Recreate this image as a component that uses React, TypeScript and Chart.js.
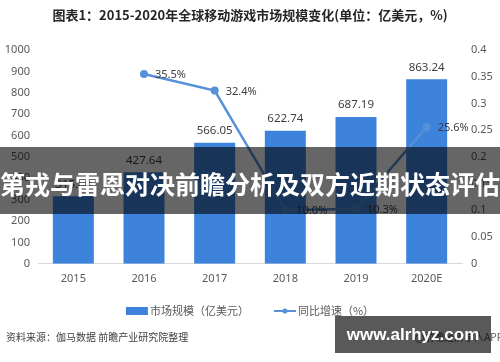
import React, { useEffect, useRef } from 'react';
import { Chart, registerables } from 'chart.js';

Chart.register(...registerables);

const titleText = '图表1：2015-2020年全球移动游戏市场规模变化(单位：亿美元，%)';
const bannerText = '第戎与雷恩对决前瞻分析及双方近期状态评估';
const sourceText = '资料来源：伽马数据 前瞻产业研究院整理';
const sourceRightText = '@前瞻经济学人APP';
const watermarkText = 'www.alrhyz.com';

const categories = ['2015', '2016', '2017', '2018', '2019', '2020E'];
const marketSize = [315.6, 427.64, 566.05, 622.74, 687.19, 863.24];
const growthRate = [null, 0.355, 0.324, 0.1, 0.103, 0.256];
const seriesNames = ['市场规模（亿美元）', '同比增速（%）'];
const leftAxisMax = 1000;
const leftAxisStep = 100;
const rightAxisMax = 0.4;
const rightAxisStep = 0.05;

const BAR_COLOR = '#3d83db';
const LINE_COLOR = '#5590d8';
const TEXT_COLOR = '#404040';
const TICK_COLOR = '#595959';
const FONT = "'Noto Sans', 'Noto Sans CJK SC', sans-serif";
const CJK_FONT = "'Noto Sans CJK SC', 'Noto Sans', sans-serif";

const valueLabelPlugin = {
  id: 'valueLabels',
  afterDatasetsDraw(chart: any) {
    const ctx = chart.ctx;
    ctx.save();
    ctx.fillStyle = TEXT_COLOR;
    ctx.textBaseline = 'middle';
    chart.data.datasets.forEach((ds: any, di: number) => {
      const meta = chart.getDatasetMeta(di);
      meta.data.forEach((el: any, i: number) => {
        const v = ds.data[i];
        if (v === null || v === undefined) return;
        if (ds.type === 'bar') {
          ctx.font = `11.5px ${FONT}`;
          ctx.textAlign = 'center';
          ctx.fillText(Number(v).toFixed(2), el.x, el.y - 12);
        } else {
          ctx.font = `11px ${FONT}`;
          ctx.textAlign = 'left';
          ctx.fillText((v * 100).toFixed(1) + '%', el.x + 11, el.y + 1);
        }
      });
    });
    ctx.restore();
  },
};

const legendPlugin = {
  id: 'customLegend',
  afterDraw(chart: any) {
    const ctx = chart.ctx;
    ctx.save();
    ctx.font = `11px ${CJK_FONT}`;
    ctx.textBaseline = 'middle';
    ctx.textAlign = 'left';
    const sw = 22;
    const gap = 2;
    const itemGap = 25;
    const w1 = ctx.measureText(chart.data.datasets[0].label).width;
    const w2 = ctx.measureText(chart.data.datasets[1].label).width;
    const total = sw + gap + w1 + itemGap + sw + gap + w2;
    let x = chart.width / 2 - total / 2;
    const y = 311;
    ctx.fillStyle = chart.data.datasets[0].backgroundColor;
    ctx.fillRect(x, y - 4, sw, 8);
    x += sw + gap;
    ctx.fillStyle = TICK_COLOR;
    ctx.fillText(chart.data.datasets[0].label, x, y);
    x += w1 + itemGap;
    ctx.strokeStyle = chart.data.datasets[1].borderColor;
    ctx.lineWidth = 2;
    ctx.beginPath();
    ctx.moveTo(x, y);
    ctx.lineTo(x + sw, y);
    ctx.stroke();
    ctx.fillStyle = chart.data.datasets[1].borderColor;
    ctx.beginPath();
    ctx.arc(x + sw / 2, y, 2.5, 0, Math.PI * 2);
    ctx.fill();
    x += sw + gap;
    ctx.fillStyle = TICK_COLOR;
    ctx.fillText(chart.data.datasets[1].label, x, y);
    ctx.restore();
  },
};

function ChartCanvas() {
  const ref = useRef<HTMLCanvasElement | null>(null);
  useEffect(() => {
    if (!ref.current) return;
    const chart = new Chart(ref.current, {
      type: 'bar',
      data: {
        labels: categories,
        datasets: [
          {
            type: 'bar',
            label: seriesNames[0],
            data: marketSize,
            backgroundColor: BAR_COLOR,
            yAxisID: 'y',
            categoryPercentage: 1,
            barPercentage: 0.58,
            order: 2,
          } as any,
          {
            type: 'line',
            label: seriesNames[1],
            data: growthRate,
            borderColor: LINE_COLOR,
            backgroundColor: LINE_COLOR,
            borderWidth: 2.5,
            pointRadius: 4,
            pointBackgroundColor: LINE_COLOR,
            pointBorderWidth: 0,
            yAxisID: 'y1',
            order: 1,
            tension: 0,
          } as any,
        ],
      },
      options: {
        animation: false,
        responsive: false,
        events: [],
        layout: { padding: { top: 50, bottom: 69, left: 0, right: 0 } },
        plugins: {
          legend: { display: false },
          tooltip: { enabled: false },
          title: { display: false },
        },
        scales: {
          x: {
            grid: { display: false, drawTicks: false, tickLength: 0 },
            border: { display: true, color: '#d9d9d9', width: 1 },
            ticks: { color: TICK_COLOR, font: { size: 11, family: FONT }, padding: 8 },
          },
          y: {
            position: 'left',
            min: 0,
            max: leftAxisMax,
            grid: { display: false, drawTicks: false, tickLength: 0 },
            border: { display: false },
            ticks: {
              stepSize: leftAxisStep,
              color: TICK_COLOR,
              font: { size: 11, family: FONT },
              padding: 8,
              callback: (v: any) => String(Math.round(Number(v))),
            },
            afterFit: (s: any) => {
              s.width = 38;
            },
          },
          y1: {
            position: 'right',
            min: 0,
            max: rightAxisMax,
            grid: { display: false, drawTicks: false, tickLength: 0 },
            border: { display: false },
            ticks: {
              stepSize: rightAxisStep,
              color: TICK_COLOR,
              font: { size: 11, family: FONT },
              padding: 9,
              callback: (v: any) => String(Number(Number(v).toFixed(2))),
            },
            afterFit: (s: any) => {
              s.width = 38;
            },
          },
        },
      } as any,
      plugins: [valueLabelPlugin, legendPlugin],
    });
    return () => chart.destroy();
  }, []);
  return (
    <canvas
      ref={ref}
      width={500}
      height={362}
      style={{ position: 'absolute', left: 0, top: 0, width: 500, height: 362 }}
    />
  );
}

export default function App() {
  return (
    <div
      style={{
        position: 'absolute',
        left: 0,
        top: 0,
        width: 500,
        height: 362,
        background: '#ffffff',
        overflow: 'hidden',
      }}
    >
      <ChartCanvas />
      <div
        style={{
          position: 'absolute',
          left: 0,
          top: 5,
          width: 500,
          textAlign: 'center',
          font: `bold 13px ${CJK_FONT}`,
          color: '#262626',
          lineHeight: '20px',
          whiteSpace: 'nowrap',
        }}
      >
        {titleText}
      </div>
      <div
        style={{
          position: 'absolute',
          left: 6,
          top: 329,
          font: `10px ${CJK_FONT}`,
          color: '#404040',
          lineHeight: '16px',
          whiteSpace: 'nowrap',
        }}
      >
        {sourceText}
      </div>
      <div
        style={{
          position: 'absolute',
          right: -3,
          top: 329,
          font: `10px ${CJK_FONT}`,
          color: '#595959',
          lineHeight: '16px',
          whiteSpace: 'nowrap',
        }}
      >
        {sourceRightText}
      </div>
      <div
        style={{
          position: 'absolute',
          left: 0,
          top: 147,
          width: 500,
          height: 67,
          background: 'rgba(0,0,0,0.6)',
          color: '#ffffff',
          font: `bold 25px ${CJK_FONT}`,
          lineHeight: '67px',
          textAlign: 'center',
          whiteSpace: 'nowrap',
          paddingTop: 3,
          boxSizing: 'border-box',
        }}
      >
        {bannerText}
      </div>
      <div
        style={{
          position: 'absolute',
          left: 335,
          top: 316,
          width: 156,
          height: 37,
          background: 'rgba(0,0,0,0.65)',
          color: '#ffffff',
          font: `bold 17px 'Liberation Sans', Arial, sans-serif`,
          lineHeight: '37px',
          textAlign: 'center',
          whiteSpace: 'nowrap',
        }}
      >
        {watermarkText}
      </div>
    </div>
  );
}
